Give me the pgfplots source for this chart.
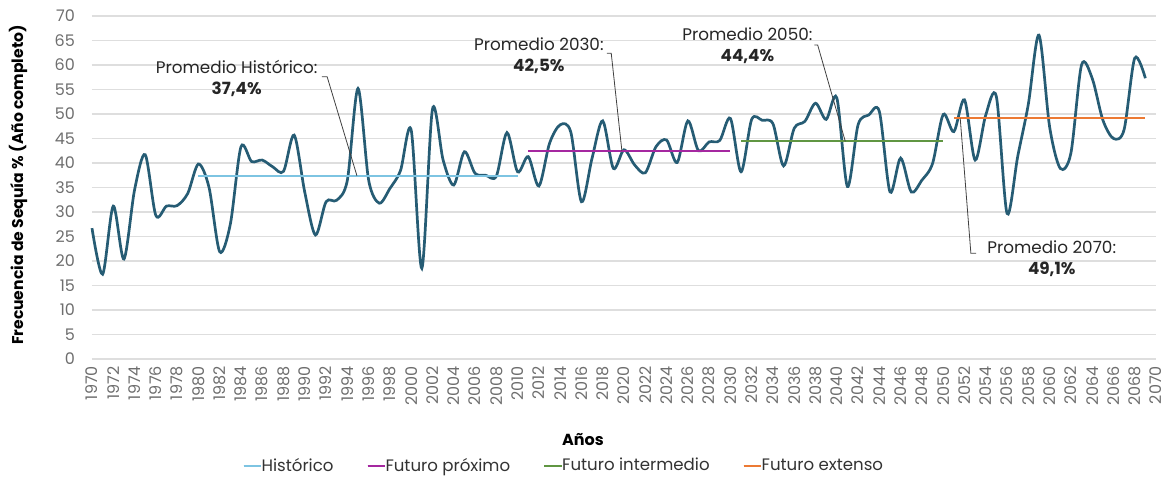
\documentclass[border=0pt]{standalone}
\usepackage{fontspec}
\setmainfont{Poppins}
\usepackage{pgfplots}
\pgfplotsset{compat=1.18}

\definecolor{serie}{RGB}{38,92,116}
\definecolor{colhist}{RGB}{125,196,226}
\definecolor{colprox}{RGB}{165,40,160}
\definecolor{colinter}{RGB}{96,150,66}
\definecolor{colext}{RGB}{236,122,52}
\definecolor{gridc}{RGB}{222,222,222}
\definecolor{tickc}{RGB}{110,110,110}

\begin{document}
\begin{tikzpicture}
\path[use as bounding box] (-46pt,-61pt) rectangle (537.5pt,179.5pt);
\begin{axis}[
  scale only axis,
  width=532pt, height=171.5pt,
  xmin=1970, xmax=2070, ymin=0, ymax=70,
  xtick={1970,1972,...,2070},
  ytick={0,5,...,70},
  axis line style={draw=none},
  major tick length=0pt,
  ymajorgrids,
  grid style={draw=gridc, line width=0.6pt},
  /pgf/number format/1000 sep={},
  /pgf/number format/assume math mode=true,
  tick label style={font=\fontsize{8}{9}\selectfont, text=tickc},
  xticklabel style={rotate=90, anchor=east},
  yticklabel style={xshift=-5pt},
  legend columns=4,
  legend style={draw=none, at={(0.443,-0.312)}, anchor=center,
    font=\fontsize{8.3}{9}\selectfont, text=black!80,
    /tikz/every even column/.append style={column sep=16pt},
    nodes={inner sep=0.5pt}},
  legend image code/.code={%
    \draw[#1, line width=0.8pt, overlay] (0pt,0pt) -- (8.7pt,0pt);
    \path (0pt,0pt) -- (8pt,0pt);},
  clip=false,
]
% serie anual
\addplot[serie, line width=1.35pt, smooth, tension=0.5, forget plot] coordinates {
(1970,26.7) (1971,17.3) (1972,31.2) (1973,20.4) (1974,34.5)
(1975,41.7) (1976,29.3) (1977,31.2) (1978,31.3) (1979,33.8)
(1980,39.8) (1981,35.0) (1982,21.9) (1983,27.5) (1984,43.3)
(1985,40.3) (1986,40.6) (1987,39.2) (1988,38.3) (1989,45.7)
(1990,34.0) (1991,25.3) (1992,32.1) (1993,32.4) (1994,36.5)
(1995,55.2) (1996,36.5) (1997,31.8) (1998,34.8) (1999,38.5)
(2000,46.7) (2001,18.5) (2002,51.0) (2003,40.6) (2004,35.5)
(2005,42.3) (2006,37.9) (2007,37.5) (2008,37.3) (2009,46.2)
(2010,38.2) (2011,41.3) (2012,35.3) (2013,44.0) (2014,47.8)
(2015,46.3) (2016,32.1) (2017,41.0) (2018,48.6) (2019,38.9)
(2020,42.7) (2021,39.6) (2022,38.0) (2023,43.3) (2024,44.7)
(2025,40.1) (2026,48.6) (2027,42.5) (2028,44.3) (2029,44.6)
(2030,49.1) (2031,38.2) (2032,48.9) (2033,48.7) (2034,48.0)
(2035,39.4) (2036,47.1) (2037,48.5) (2038,52.2) (2039,48.9)
(2040,53.3) (2041,35.2) (2042,47.8) (2043,49.8) (2044,50.5)
(2045,34.1) (2046,41.0) (2047,34.1) (2048,36.5) (2049,39.9)
(2050,49.9) (2051,46.4) (2052,52.9) (2053,40.6) (2054,49.8)
(2055,53.5) (2056,29.7) (2057,41.3) (2058,52.0) (2059,66.1)
(2060,47.4) (2061,38.9) (2062,42.0) (2063,60.0) (2064,57.3)
(2065,48.8) (2066,45.0) (2067,46.8) (2068,61.4) (2069,57.3)
};
% promedios por periodo
\addplot[colhist, line width=1pt] coordinates {(1980,37.4) (2010,37.4)};
\addlegendentry{Histórico}
\addplot[colprox, line width=1pt] coordinates {(2011,42.5) (2030,42.5)};
\addlegendentry{Futuro próximo}
\addplot[colinter, line width=1pt] coordinates {(2031,44.4) (2050,44.4)};
\addlegendentry{Futuro intermedio}
\addplot[colext, line width=1pt] coordinates {(2051,49.1) (2069,49.1)};
\addlegendentry{Futuro extenso}

% etiquetas
\draw[black!75, line width=0.4pt] (axis cs:1991.6,57.6) -- (axis cs:1992.1,57.6) -- (axis cs:1994.9,37.4);
\node[align=center, font=\fontsize{8.4}{10.5}\selectfont, text=black!85] at (axis cs:1983.6,57.3) {Promedio Histórico:\\\textbf{37,4\%}};
\draw[black!75, line width=0.4pt] (axis cs:2018.4,62.4) -- (axis cs:2018.8,62.4) -- (axis cs:2019.8,42.5);
\node[align=center, font=\fontsize{8.4}{10.5}\selectfont, text=black!85] at (axis cs:2012.0,61.8) {Promedio 2030:\\\textbf{42,5\%}};
\draw[black!75, line width=0.4pt] (axis cs:2037.9,64.1) -- (axis cs:2038.2,64.1) -- (axis cs:2040.8,44.4);
\node[align=center, font=\fontsize{8.4}{10.5}\selectfont, text=black!85] at (axis cs:2031.6,63.9) {Promedio 2050:\\\textbf{44,4\%}};
\draw[black!75, line width=0.4pt] (axis cs:2051.6,49.1) -- (axis cs:2052.6,21.6) -- (axis cs:2053.1,21.6);
\node[align=center, font=\fontsize{8.4}{10.5}\selectfont, text=black!85] at (axis cs:2060.2,20.4) {Promedio 2070:\\\textbf{49,1\%}};
\end{axis}
\node[rotate=90, font=\bfseries\fontsize{7.8}{9}\selectfont] at (-37pt,87pt) {Frecuencia de Sequía \% (Año completo)};
\node[font=\bfseries\fontsize{8}{9}\selectfont] at (245.5pt,-40.5pt) {Años};
\end{tikzpicture}
\end{document}
